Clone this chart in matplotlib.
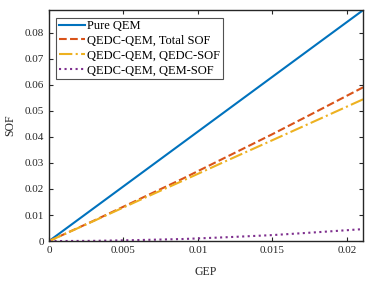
import numpy as np
import matplotlib.pyplot as plt
from matplotlib.ticker import FuncFormatter

# GEP sample points and SOF values
gep = [0, 0.003, 0.006, 0.009, 0.012, 0.015, 0.018, 0.0211]
pure_qem = [0, 0.0126, 0.0252, 0.0378, 0.0504, 0.0630, 0.0756, 0.0886]
total_sof = [0, 0.0078, 0.0159, 0.0240, 0.0325, 0.0410, 0.0498, 0.0590]
qedc_sof = [0, 0.0077, 0.0155, 0.0232, 0.0310, 0.0387, 0.0464, 0.0544]
qem_sof = [0, 0.0001, 0.0004, 0.0008, 0.0015, 0.0023, 0.0034, 0.0046]

x_ticks = [0, 0.005, 0.01, 0.015, 0.02]
y_ticks = [0, 0.01, 0.02, 0.03, 0.04, 0.05, 0.06, 0.07, 0.08]

plt.rcParams['font.family'] = ['Liberation Serif', 'DejaVu Serif']
plt.rcParams['font.size'] = 8

fig = plt.figure(figsize=(3.74, 2.81), dpi=100, facecolor='white')
ax = fig.add_axes([0.131, 0.142, 0.840, 0.822])

ax.plot(gep, pure_qem, '-', color='#0072BD', linewidth=1.5, label='Pure QEM')
ax.plot(gep, total_sof, '--', color='#D95319', linewidth=1.5, label='QEDC-QEM, Total SOF')
ax.plot(gep, qedc_sof, '-.', color='#EDB120', linewidth=1.5, label='QEDC-QEM, QEDC-SOF')
ax.plot(gep, qem_sof, ':', color='#7E2F8E', linewidth=1.5, label='QEDC-QEM, QEM-SOF')

ax.set_xlim(0, 0.0211)
ax.set_ylim(0, 0.0886)
ax.set_xticks(x_ticks)
ax.set_yticks(y_ticks)
fmt = FuncFormatter(lambda v, pos: f'{v:g}')
ax.xaxis.set_major_formatter(fmt)
ax.yaxis.set_major_formatter(fmt)
ax.tick_params(direction='in', top=True, right=True, length=3, width=0.8,
               colors='#262626', labelcolor='#262626', labelsize=8)
for s in ax.spines.values():
    s.set_linewidth(1.0)
    s.set_color('#262626')

ax.set_xlabel('GEP', fontsize=8.5, color='#262626', labelpad=8)
ax.set_ylabel('SOF', fontsize=8.5, color='#262626', labelpad=6)

leg = ax.legend(loc='upper left', fontsize=9, frameon=True, fancybox=False,
                edgecolor='#262626', borderpad=0.2, labelspacing=0.22,
                handlelength=2.1, handletextpad=0.15, borderaxespad=0.6)
leg.get_frame().set_linewidth(0.8)

fig.savefig('out.png', dpi=100, facecolor='white')
